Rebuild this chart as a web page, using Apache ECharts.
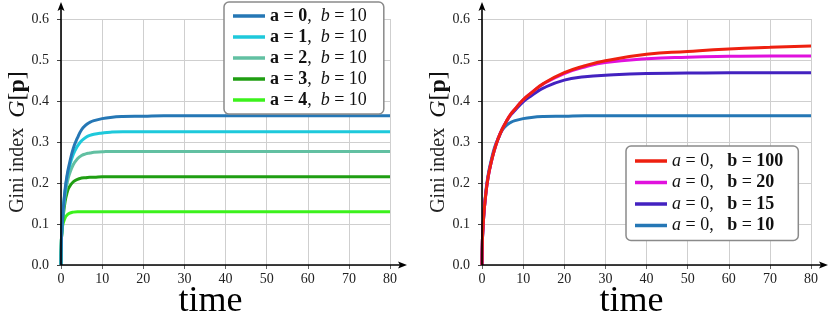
<!DOCTYPE html>
<html>
<head>
<meta charset="utf-8">
<script src="https://cdn.jsdelivr.net/npm/echarts@6/dist/echarts.min.js"></script>
<style>html,body{margin:0;padding:0;background:#fff;}#c{width:828px;height:313px;}</style>
</head>
<body>
<div id="c"></div>
<script>
// time samples
const times = [0, 0.1, 0.25, 0.5, 1, 1.5, 2, 3, 4, 5, 6, 7, 8, 10, 12, 15, 20, 25, 30, 40, 50, 60, 70, 80];

// left panel: b = 10, varying a
const a0 = [0, 0.06, 0.09, 0.13, 0.185, 0.22, 0.245, 0.285, 0.31, 0.33, 0.341, 0.348, 0.352, 0.357, 0.36, 0.362, 0.363, 0.364, 0.364, 0.364, 0.364, 0.364, 0.364, 0.364];
const a1 = [0, 0.06, 0.09, 0.13, 0.18, 0.215, 0.238, 0.27, 0.29, 0.303, 0.311, 0.316, 0.319, 0.322, 0.324, 0.325, 0.325, 0.325, 0.325, 0.325, 0.325, 0.325, 0.325, 0.325];
const a2 = [0, 0.06, 0.09, 0.125, 0.17, 0.2, 0.22, 0.245, 0.259, 0.267, 0.271, 0.273, 0.275, 0.276, 0.277, 0.277, 0.277, 0.277, 0.277, 0.277, 0.277, 0.277, 0.277, 0.277];
const a3 = [0, 0.06, 0.085, 0.115, 0.155, 0.177, 0.19, 0.203, 0.209, 0.212, 0.213, 0.214, 0.214, 0.215, 0.215, 0.215, 0.215, 0.215, 0.215, 0.215, 0.215, 0.215, 0.215, 0.215];
const a4 = [0, 0.06, 0.085, 0.1, 0.115, 0.122, 0.126, 0.129, 0.13, 0.13, 0.13, 0.13, 0.13, 0.13, 0.13, 0.13, 0.13, 0.13, 0.13, 0.13, 0.13, 0.13, 0.13, 0.13];

// right panel: a = 0, varying b
const b100 = [0, 0.06, 0.09, 0.13, 0.18, 0.215, 0.24, 0.28, 0.31, 0.333, 0.352, 0.368, 0.38, 0.403, 0.42, 0.443, 0.469, 0.486, 0.498, 0.514, 0.521, 0.527, 0.531, 0.534];
const b20  = [0, 0.06, 0.09, 0.13, 0.18, 0.215, 0.24, 0.28, 0.31, 0.333, 0.352, 0.368, 0.38, 0.403, 0.42, 0.442, 0.467, 0.483, 0.494, 0.503, 0.507, 0.509, 0.51, 0.51];
const b15  = [0, 0.06, 0.09, 0.13, 0.18, 0.215, 0.24, 0.28, 0.31, 0.333, 0.351, 0.366, 0.377, 0.398, 0.413, 0.432, 0.451, 0.459, 0.463, 0.467, 0.468, 0.469, 0.469, 0.469];
const b10  = [0, 0.06, 0.09, 0.13, 0.185, 0.22, 0.245, 0.285, 0.31, 0.33, 0.341, 0.348, 0.352, 0.357, 0.36, 0.362, 0.363, 0.364, 0.364, 0.364, 0.364, 0.364, 0.364, 0.364];

const xTicks = [0, 10, 20, 30, 40, 50, 60, 70, 80];
const yTicks = [0.0, 0.1, 0.2, 0.3, 0.4, 0.5, 0.6];

const leftNames = ['{b|a} = {b|0},  {i|b} = 10', '{b|a} = {b|1},  {i|b} = 10', '{b|a} = {b|2},  {i|b} = 10', '{b|a} = {b|3},  {i|b} = 10', '{b|a} = {b|4},  {i|b} = 10'];
const rightNames = ['{i|a} = 0,   {b|b} = {b|100}', '{i|a} = 0,   {b|b} = {b|20}', '{i|a} = 0,   {b|b} = {b|15}', '{i|a} = 0,   {b|b} = {b|10}'];

const SERIF = 'Liberation Serif';
const pair = arr => times.map((t, i) => [t, arr[i]]);

const chart = echarts.init(document.getElementById('c'), null, {renderer: 'canvas'});

function xAxis(gi) {
  return {
    type: 'value', gridIndex: gi, min: 0, max: 80, interval: 10,
    name: 'time', nameLocation: 'middle', nameGap: 19, nameMoveOverlap: false,
    nameTextStyle: {fontFamily: SERIF, fontSize: 36, color: '#000', padding: [0, 30, 0, 0]},
    axisLine: {show: false},
    axisTick: {show: true, length: 4, lineStyle: {color: '#666'}},
    axisLabel: {fontFamily: SERIF, fontSize: 14, color: '#222', margin: 7},
    splitLine: {show: true, lineStyle: {color: '#cfcfcf', width: 1}}
  };
}
function yAxis(gi) {
  return {
    type: 'value', gridIndex: gi, min: 0, max: 0.6, interval: 0.1,
    name: 'Gini index  {g|G}{n|[}{p|p}{n|]}', nameLocation: 'middle', nameGap: 31, nameRotate: 90, nameMoveOverlap: false,
    nameTextStyle: {fontFamily: SERIF, fontSize: 20, color: '#222',
      rich: {
        g: {fontFamily: SERIF, fontStyle: 'italic', fontSize: 24, color: '#111'},
        n: {fontFamily: SERIF, fontSize: 24, color: '#111'},
        p: {fontFamily: SERIF, fontWeight: 'bold', fontSize: 24, color: '#111'}
      }},
    axisLine: {show: false},
    axisTick: {show: true, length: 4, lineStyle: {color: '#444'}},
    axisLabel: {fontFamily: SERIF, fontSize: 14, color: '#222', margin: 12, formatter: v => v.toFixed(1)},
    splitLine: {show: true, lineStyle: {color: '#cfcfcf', width: 1}}
  };
}

const richText = {
  b: {fontFamily: SERIF, fontWeight: 'bold', fontSize: 18, color: '#111'},
  i: {fontFamily: SERIF, fontStyle: 'italic', fontSize: 18, color: '#111'}
};

function ln(name, data, color, xi) {
  return {
    type: 'line', name: name, xAxisIndex: xi, yAxisIndex: xi, data: pair(data),
    showSymbol: false, symbol: 'none', smooth: true,
    lineStyle: {color: color, width: 3}, itemStyle: {color: color}
  };
}

const option = {
  animation: false,
  backgroundColor: '#fff',
  grid: [
    {left: 61, right: 438, top: 19, bottom: 48, outerBoundsMode: 'none', containLabel: false},
    {left: 482, right: 17, top: 19, bottom: 48, outerBoundsMode: 'none', containLabel: false}
  ],
  xAxis: [xAxis(0), xAxis(1)],
  yAxis: [yAxis(0), yAxis(1)],
  legend: [
    {
      data: leftNames, left: 224, top: 2, orient: 'vertical',
      itemGap: 3, itemWidth: 32, itemHeight: 3.5, icon: 'rect',
      padding: [5, 17, 5, 9], borderColor: '#8a8a8a', borderWidth: 1.5, borderRadius: 5,
      backgroundColor: '#fff',
      textStyle: {fontFamily: SERIF, fontSize: 18, color: '#111', rich: richText}
    },
    {
      data: rightNames, left: 626, top: 146, orient: 'vertical',
      itemGap: 3.5, itemWidth: 32, itemHeight: 3.5, icon: 'rect',
      padding: [6, 15, 6, 9], borderColor: '#8a8a8a', borderWidth: 1.5, borderRadius: 5,
      backgroundColor: '#fff',
      textStyle: {fontFamily: SERIF, fontSize: 18, color: '#111', rich: richText}
    }
  ],
  series: [
    ln(leftNames[4], a4, '#3cf21c', 0),
    ln(leftNames[3], a3, '#1f9e12', 0),
    ln(leftNames[2], a2, '#62c0a2', 0),
    ln(leftNames[1], a1, '#1ec9db', 0),
    ln(leftNames[0], a0, '#2577b5', 0),
    ln(rightNames[3], b10, '#2577b5', 1),
    ln(rightNames[2], b15, '#4322c0', 1),
    ln(rightNames[1], b20, '#e011dd', 1),
    ln(rightNames[0], b100, '#ee2010', 1)
  ]
};
chart.setOption(option);

// axis lines with arrow heads
const g = [];
[0, 1].forEach(gi => {
  const o = chart.convertToPixel({gridIndex: gi}, [0, 0]);
  const e = chart.convertToPixel({gridIndex: gi}, [80, 0.6]);
  const topY = e[1] - 17, rightX = e[0] + 17;
  g.push({type: 'line', z: 100, shape: {x1: o[0], y1: o[1], x2: o[0], y2: topY + 4}, style: {stroke: '#000', lineWidth: 1.6}});
  g.push({type: 'line', z: 100, shape: {x1: o[0], y1: o[1], x2: rightX - 4, y2: o[1]}, style: {stroke: '#000', lineWidth: 1.6}});
  g.push({type: 'polygon', z: 100, shape: {points: [[o[0], topY], [o[0] - 3.5, topY + 9], [o[0], topY + 7], [o[0] + 3.5, topY + 9]]}, style: {fill: '#000'}});
  g.push({type: 'polygon', z: 100, shape: {points: [[rightX, o[1]], [rightX - 9, o[1] - 3.5], [rightX - 7, o[1]], [rightX - 9, o[1] + 3.5]]}, style: {fill: '#000'}});
});
chart.setOption({graphic: g});
</script>
</body>
</html>
